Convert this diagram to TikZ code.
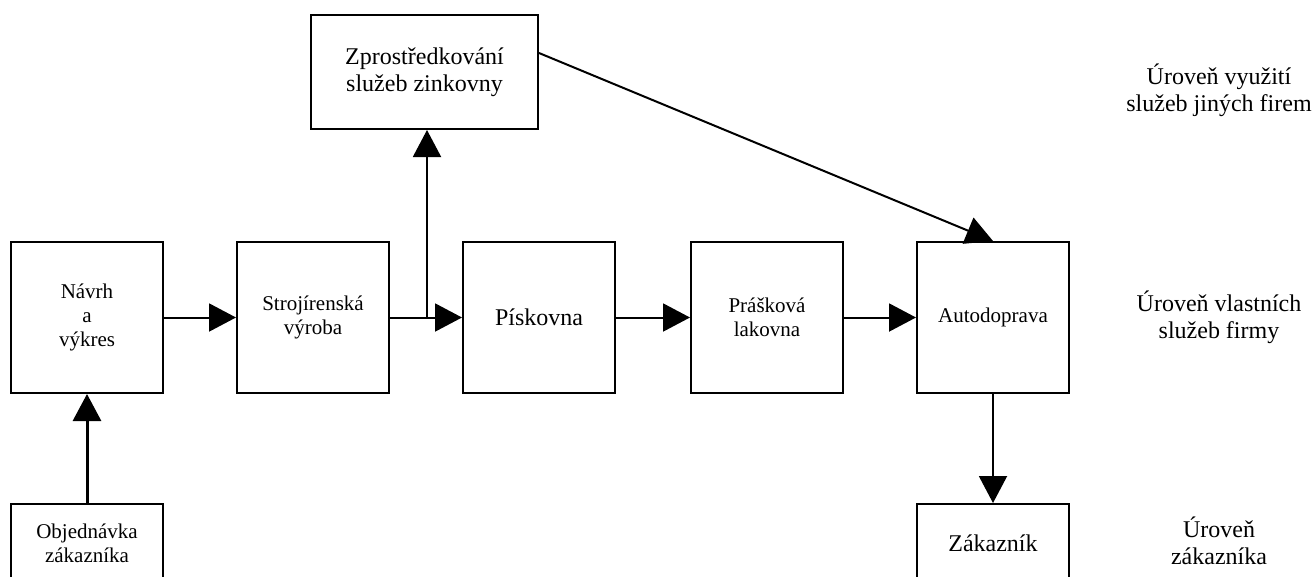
\documentclass[tikz,border=0pt]{standalone}
\usepackage{fontspec}
\setmainfont{Liberation Serif}
\usetikzlibrary{arrows.meta,positioning}

\begin{document}
\begin{tikzpicture}[
    x=1pt, y=-1pt,
    node distance=72pt,
    box/.style={rectangle, draw, line width=2pt, minimum width=152pt, minimum height=151pt, inner sep=2pt, align=center, font=\fontsize{21}{24}\selectfont},
    bigtext/.style={font=\fontsize{24}{27}\selectfont},
    level/.style={align=center, bigtext},
    arrow/.style={-{Triangle[length=27pt,width=28pt]}, line width=2pt},
]
    \useasboundingbox (0,0) rectangle (1315,576);
    % own services row
    \node[box] (navrh) at (87,317.5) {Návrh\\a\\výkres};
    \node[box, right=of navrh] (stroj) {Strojírenská\\výroba};
    \node[box, bigtext, right=of stroj] (pisk) {Pískovna};
    \node[box, right=74pt of pisk] (prask) {Prášková\\lakovna};
    \node[box, right=of prask] (auto) {Autodoprava};
    % other firms and customer
    \node[box, bigtext, minimum width=227pt, minimum height=114pt] (zpro) at (424.5,72) {Zprostředkování\\služeb zinkovny};
    \node[box, minimum height=78pt, below=109pt of navrh] (obj) {Objednávka\\zákazníka};
    \node[box, bigtext, minimum height=78pt, below=109pt of auto] (zak) {Zákazník};
    % levels
    \node[level] (lvljine) at (1219,90) {Úroveň využití\\služeb jiných firem};
    \node[level] (lvlvlast) at (1219,317) {Úroveň vlastních\\služeb firmy};
    \node[level] (lvlzak) at (1219,541) {Úroveň\\zákazníka};
    \draw[arrow] (navrh) -- (stroj);
    \draw[arrow] (stroj) -- (pisk);
    \draw[arrow] (pisk) -- (prask);
    \draw[arrow] (prask) -- (auto);
    \coordinate (odb) at (427,317.5);
    \draw[arrow] (odb) -- (odb |- zpro.south);
    \draw[arrow] ([yshift=19pt]zpro.east) -- (auto.north);
    \draw[arrow] (auto) -- (zak);
    \draw[arrow, line width=3pt] (obj) -- (navrh);
\end{tikzpicture}
\end{document}
